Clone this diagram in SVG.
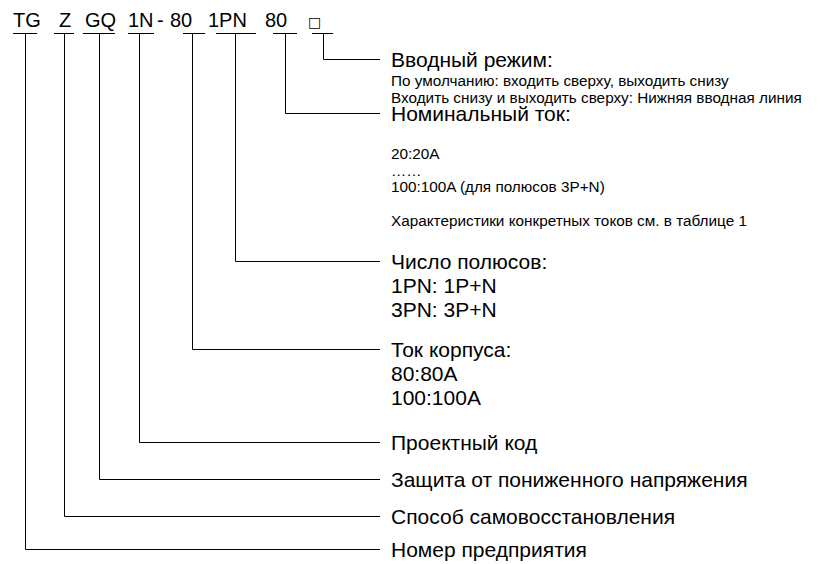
<svg xmlns="http://www.w3.org/2000/svg" width="823" height="564" viewBox="0 0 823 564">
<style>
.t{font-family:"Liberation Sans",Arial,sans-serif;fill:#000}
.ti{font-size:20px}
.h{font-size:21px}
.s{font-size:15.3px}
.box{font-family:"DejaVu Sans",sans-serif;font-size:14px;fill:#000}
.c{fill:none;stroke:#000;stroke-width:1}
</style>
<rect width="823" height="564" fill="#fff"/>
<g id="code">
<text class="t ti" x="13" y="27">TG</text>
<text class="t ti" x="59" y="27">Z</text>
<text class="t ti" x="85" y="27">GQ</text>
<text class="t ti" x="128" y="27">1N</text>
<text class="t ti" x="157" y="27">-</text>
<text class="t ti" x="170" y="27">80</text>
<text class="t ti" x="208" y="27">1PN</text>
<text class="t ti" x="265" y="27">80</text>
<text class="box" x="308" y="27">□</text>
</g>
<g id="connectors">
<path class="c" d="M13 33.5H37M54 33.5H74M83 33.5H115M128 33.5H154M183 33.5H205M216 33.5H256M273 33.5H297M312 33.5H333"/>
<path class="c" d="M323.5 34V59.5H380"/>
<path class="c" d="M285.5 34V113.5H380"/>
<path class="c" d="M235.5 34V261.5H380"/>
<path class="c" d="M192.5 34V349.5H380"/>
<path class="c" d="M139.5 34V442.5H380"/>
<path class="c" d="M99.5 34V479.5H380"/>
<path class="c" d="M64.5 34V516.5H380"/>
<path class="c" d="M25.5 34V549.5H380"/>
</g>
<g id="n-mode">
<text class="t h" x="391" y="66.5">Вводный режим:</text>
<text class="t s" x="391" y="85.5">По умолчанию: входить сверху, выходить снизу</text>
<text class="t s" x="391" y="103">Входить снизу и выходить сверху: Нижняя вводная линия</text>
</g>
<g id="n-rated">
<text class="t h" x="391" y="120.5">Номинальный ток:</text>
<text class="t s" x="391" y="159">20:20A</text>
<text class="t s" x="391" y="176">……</text>
<text class="t s" x="391" y="192">100:100A (для полюсов 3P+N)</text>
<text class="t s" x="391" y="226">Характеристики конкретных токов см. в таблице 1</text>
</g>
<g id="n-poles">
<text class="t h" x="391" y="268.5">Число полюсов:</text>
<text class="t h" x="391" y="292.5">1PN: 1P+N</text>
<text class="t h" x="391" y="316.5">3PN: 3P+N</text>
</g>
<g id="n-frame">
<text class="t h" x="391" y="356.5">Ток корпуса:</text>
<text class="t h" x="391" y="380.5">80:80A</text>
<text class="t h" x="391" y="404.5">100:100A</text>
</g>
<g id="n-project">
<text class="t h" x="391" y="449.5">Проектный код</text>
</g>
<g id="n-uv">
<text class="t h" x="391" y="486.5">Защита от пониженного напряжения</text>
</g>
<g id="n-reset">
<text class="t h" x="391" y="523.5">Способ самовосстановления</text>
</g>
<g id="n-company">
<text class="t h" x="391" y="556.5">Номер предприятия</text>
</g>
</svg>
